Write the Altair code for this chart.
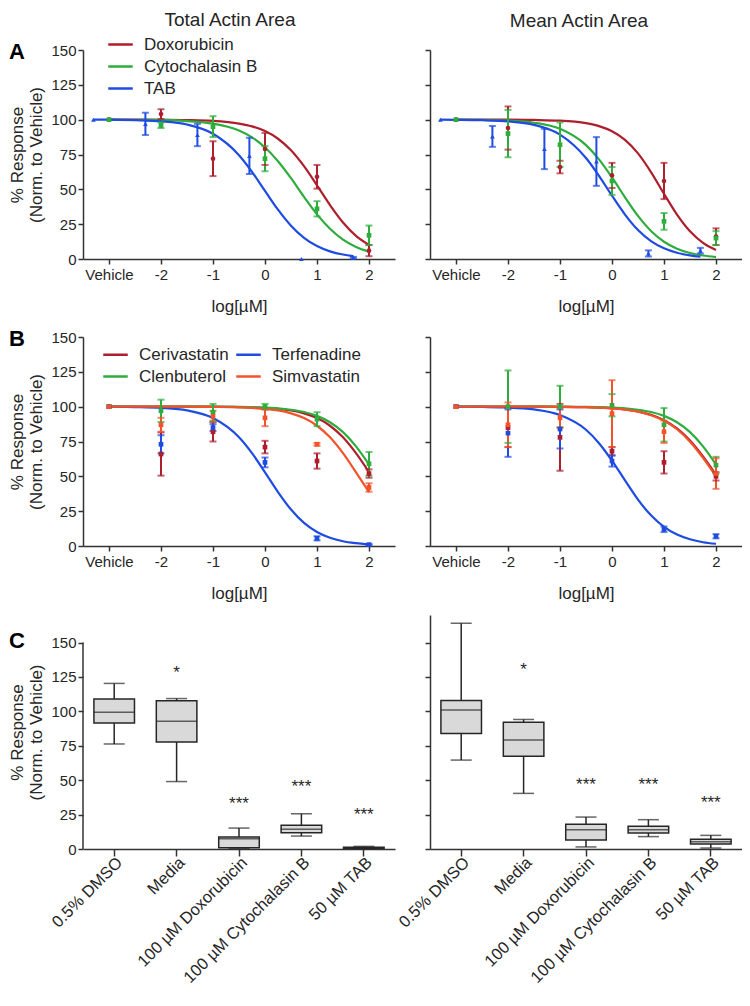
import altair as alt
import pandas as pd

FONT = "Liberation Sans"
INK = "#262626"
RED, GREEN, BLUE, ORANGE = "#AD1F2C", "#2EAD3D", "#1E4BE2", "#F2532B"

# ---------------- x positions (log[uM]); "Vehicle" drawn at -3, TAB offset -0.3 ----------------
DOSE_X = [-3, -2, -1, 0, 1, 2]
TAB_X = [-3.3, -2.3, -1.3, -0.3, 0.7, 1.7]
CURVE_X = [-3, -2.5, -2, -1.5, -1, -0.5, -0.25, 0, 0.25, 0.5, 0.75, 1, 1.25, 1.5, 1.75, 2]
TAB_CURVE_X = [-3.3, -3, -2.5, -2, -1.5, -1, -0.5, -0.25, 0, 0.25, 0.5, 0.75, 1, 1.25, 1.5, 1.7]
X_TICKS = [-3, -2, -1, 0, 1, 2]

# ---------------- Panel A ----------------
A_NAMES = ["Doxorubicin", "Cytochalasin B", "TAB"]
A_COLORS = [RED, GREEN, BLUE]
A_SHAPES = ["circle", "square", "triangle-up"]

# Total actin area
AT_DOX_MEAN = [100, 104, 72, 79, 59, 6]
AT_DOX_SEM = [0, 3.5, 12.5, 11.5, 8.5, 4]
AT_CYT_MEAN = [100, 96, 95, 72, 36, 17]
AT_CYT_SEM = [0, 2, 7.5, 9, 5.5, 7]
AT_TAB_MEAN = [100, 97, 89, 74, 0, 1]
AT_TAB_SEM = [0, 8, 8, 13, 0, 0.5]
AT_DOX_FIT = [100, 100, 99.9, 99.7, 99.1, 97.2, 95.2, 91.8, 86.3, 78.0, 66.6, 52.9, 38.7, 26.2, 16.6, 10.1]
AT_CYT_FIT = [100, 99.9, 99.8, 99.0, 97.1, 92.2, 87.3, 80.0, 70.2, 58.0, 44.6, 32.0, 21.7, 13.9, 8.7, 5.3]
AT_TAB_FIT = [100, 100, 99.6, 98.8, 96.5, 89.9, 74.5, 62.6, 48.9, 35.4, 23.9, 15.2, 9.3, 5.5, 3.2, 2.1]

# Mean actin area
AM_DOX_MEAN = [100, 94, 66, 60, 56, 16]
AM_DOX_SEM = [0, 15.5, 4.5, 9, 13, 6]
AM_CYT_MEAN = [100, 90, 82, 56, 27, 15]
AM_CYT_SEM = [0, 17, 16, 10, 6, 5]
AM_TAB_MEAN = [100, 88, 79, 70, 4, 6]
AM_TAB_SEM = [0, 7.5, 14.5, 17.5, 2.2, 2]
AM_DOX_FIT = [100, 100, 100, 99.8, 99.3, 97.5, 95.4, 91.7, 85.5, 75.8, 62.4, 46.8, 31.9, 19.9, 11.6, 6.5]
AM_CYT_FIT = [100, 99.8, 99.3, 97.8, 93.4, 81.7, 71.5, 58.5, 44.3, 30.9, 20.1, 12.4, 7.4, 4.3, 2.5, 1.4]
AM_TAB_FIT = [100, 99.9, 99.6, 98.8, 96.3, 89.3, 72.5, 59.7, 45.4, 31.9, 20.8, 12.9, 7.7, 4.5, 2.6, 1.6]

# ---------------- Panel B ----------------
B_NAMES = ["Cerivastatin", "Clenbuterol", "Terfenadine", "Simvastatin"]
B_COLORS = [RED, GREEN, BLUE, ORANGE]
B_SHAPES = ["square", "square", "square", "square"]

BT_CER_MEAN = [100, 66, 82, 71, 61, 52]
BT_CER_SEM = [0, 15.5, 7, 4.5, 5.5, 3]
BT_CLE_MEAN = [100, 97, 96, 100, 91, 59]
BT_CLE_SEM = [0, 8, 6, 2, 5, 8.5]
BT_TER_MEAN = [100, 73, 85, 60, 5.5, 1]
BT_TER_SEM = [0, 6.5, 2.5, 3.5, 1.5, 0.5]
BT_SIM_MEAN = [100, 87, 93, 92, 73, 42]
BT_SIM_SEM = [0, 5, 4, 6, 1, 3]
BT_CER_FIT = [100, 100, 100, 100, 100, 99.7, 99.5, 99.1, 98.4, 97.3, 95.2, 91.8, 86.3, 78.0, 66.6, 52.9]
BT_CLE_FIT = [100, 100, 100, 100, 100, 99.8, 99.6, 99.3, 98.8, 97.8, 96.2, 93.4, 88.8, 81.7, 71.5, 58.5]
BT_TER_FIT = [100, 99.7, 99.1, 97.3, 91.8, 78.0, 66.6, 52.9, 38.7, 26.2, 16.6, 10.1, 5.9, 3.4, 2.0, 1.1]
BT_SIM_FIT = [100, 100, 100, 100, 99.8, 99.5, 99.1, 98.4, 97.3, 95.2, 91.8, 86.3, 78.0, 66.6, 52.9, 38.7]

BM_CER_MEAN = [100, 85, 78, 68, 60, 50]
BM_CER_SEM = [0, 14, 24, 3, 8, 3]
BM_CLE_MEAN = [100, 100, 100, 101, 87, 58]
BM_CLE_SEM = [0, 26, 15, 8, 12, 6]
BM_TER_MEAN = [100, 81, 84, 61, 12, 7]
BM_TER_SEM = [0, 17, 14, 4, 2, 1.5]
BM_SIM_MEAN = [100, 87, 92, 95, 82, 52]
BM_SIM_SEM = [0, 16, 7, 24, 8, 11]
BM_CER_FIT = [100, 100, 100, 100, 99.9, 99.6, 99.3, 98.8, 98.0, 96.5, 94.2, 90.3, 84.4, 75.7, 64.3, 51.1]
BM_CLE_FIT = [100, 100, 100, 100, 100, 99.8, 99.6, 99.3, 98.8, 97.8, 96.2, 93.4, 88.8, 81.7, 71.5, 58.5]
BM_TER_FIT = [100, 99.8, 99.4, 98.0, 94.0, 83.4, 73.8, 61.3, 47.1, 33.3, 22.0, 13.7, 8.2, 4.8, 2.7, 1.6]
BM_SIM_FIT = [100, 100, 100, 100, 99.9, 99.6, 99.2, 98.8, 97.9, 96.4, 93.9, 89.9, 83.8, 74.9, 63.3, 50.0]

# ---------------- Panel C (box plots) ----------------
C_CATS = ["0.5% DMSO", "Media", "100 \u00b5M Doxorubicin", "100 \u00b5M Cytochalasin B", "50 \u00b5M TAB"]
CT_MIN = [76.3, 49, 0.5, 9.4, 0.2]
CT_Q1 = [91.6, 77.8, 0.9, 11.8, 0.5]
CT_MED = [99.3, 92.8, 7.4, 14.4, 0.8]
CT_Q3 = [108.9, 107.7, 8.8, 17.2, 1.2]
CT_MAX = [120.3, 109.3, 15.2, 25.6, 1.9]
CT_STARS = ["", "*", "***", "***", "***"]
CT_STAR_Y = [0, 131.6, 36.4, 49, 28.2]

CM_MIN = [64.6, 40.4, 1.5, 9, 0.7]
CM_Q1 = [84, 67.3, 6.5, 11.6, 3.6]
CM_MED = [100.9, 79.1, 14, 14, 5.3]
CM_Q3 = [107.9, 92, 17.9, 16.5, 7]
CM_MAX = [164, 94.1, 23.2, 21.3, 9.9]
CM_STARS = ["", "*", "***", "***", "***"]
CM_STAR_Y = [0, 133.6, 50, 50, 37]

Y_TICKS = [0, 25, 50, 75, 100, 125, 150]
Y_TITLE = ["% Response", "(Norm. to Vehicle)"]
W, H, HC = 312, 209, 234


def panel_label(letter, yv):
    return alt.Chart(pd.DataFrame({"t": [letter]})).mark_text(
        font=FONT, fontSize=22, fontWeight="bold", color="#000", align="center", baseline="middle"
    ).encode(x=alt.value(-66), y=alt.value(yv), text="t:N")


def dose_panel(names, colors, shapes, xs_list, means, sems, cxs_list, fits, show_y, legend,
               title, title_offset, title_dx, letter=None):
    pts, crv = [], []
    for n, xs, m, s, cxs, f in zip(names, xs_list, means, sems, cxs_list, fits):
        for xv, mv, sv in zip(xs, m, s):
            pts.append({"compound": n, "x": xv, "mean": mv, "lo": mv - sv, "hi": mv + sv, "sem": sv})
        for xv, yv in zip(cxs, f):
            crv.append({"compound": n, "x": xv, "y": yv})
    pts = pd.DataFrame(pts)
    crv = pd.DataFrame(crv)
    err = pts[pts["sem"] > 0]

    xaxis = alt.Axis(values=X_TICKS, labelExpr="datum.value == -3 ? 'Vehicle' : toString(datum.value)",
                     title="log[\u00b5M]", tickSize=5, labelPadding=3, titlePadding=16)
    if show_y:
        yaxis = alt.Axis(values=Y_TICKS, title=Y_TITLE, tickSize=5, labelPadding=2, titlePadding=5)
    else:
        yaxis = alt.Axis(values=Y_TICKS, labels=False, title=None, tickSize=5)
    xs = alt.Scale(domain=[-3.5, 2.5], nice=False, zero=False)
    ys = alt.Scale(domain=[0, 150], nice=False)
    cscale = alt.Scale(domain=names, range=colors)
    color_leg = alt.Color("compound:N", scale=cscale, legend=legend)
    color = alt.Color("compound:N", scale=cscale, legend=None)
    X = alt.X("x:Q", scale=xs, axis=xaxis)

    lines = alt.Chart(crv).mark_line(strokeWidth=2.2, interpolate="monotone").encode(
        x=X, y=alt.Y("y:Q", scale=ys, axis=yaxis), color=color_leg, detail="compound:N")
    bars = alt.Chart(err).mark_rule(strokeWidth=2).encode(
        x=X, y=alt.Y("lo:Q", scale=ys, axis=yaxis), y2="hi:Q", color=color)
    caps = alt.Chart(err).transform_fold(["lo", "hi"], as_=["k", "v"]).mark_tick(
        orient="horizontal", size=7, thickness=2).encode(
        x=X, y=alt.Y("v:Q", scale=ys, axis=yaxis), color=color)
    layers = [lines, bars, caps]
    for n, shp in zip(names, shapes):
        sub = pts[pts["compound"] == n]
        layers.append(alt.Chart(sub).mark_point(filled=True, size=22, opacity=1, shape=shp).encode(
            x=X, y=alt.Y("mean:Q", scale=ys, axis=yaxis), color=color))
    if letter:
        layers.append(panel_label(letter, 2))
    ch = alt.layer(*layers).properties(width=W, height=H)
    if title:
        ch = ch.properties(title=alt.TitleParams(text=title, anchor="middle", offset=title_offset,
                                                 dx=title_dx, fontSize=19, font=FONT,
                                                 fontWeight="normal", color=INK))
    return ch


def box_panel(mn, q1, med, q3, mx, stars, star_y, show_y, letter=None):
    df = pd.DataFrame({"cat": C_CATS, "mn": mn, "q1": q1, "med": med, "q3": q3, "mx": mx})
    sdf = pd.DataFrame({"cat": C_CATS, "star": stars, "sy": star_y})
    sdf = sdf[sdf["star"] != ""]
    xs = alt.Scale(domain=C_CATS, paddingInner=0, paddingOuter=0)
    xaxis = alt.Axis(title=None, labelAngle=315, labelAlign="right", labelBaseline="top",
                     tickSize=7, labelPadding=-2, labelFontSize=16.5)
    ys = alt.Scale(domain=[0, 170], nice=False)
    if show_y:
        yaxis = alt.Axis(values=Y_TICKS, title=Y_TITLE, tickSize=5, labelPadding=2, titlePadding=5,
                         domain=False)
    else:
        yaxis = alt.Axis(values=Y_TICKS, labels=False, title=None, tickSize=5)
    X = alt.X("cat:N", scale=xs, axis=xaxis, sort=C_CATS)

    whisk = alt.Chart(df).mark_rule(color=INK, strokeWidth=1.5).encode(
        x=X, y=alt.Y("mn:Q", scale=ys, axis=yaxis), y2="mx:Q")
    box = alt.Chart(df).mark_bar(width=alt.RelativeBandSize(0.65), fill="#D9D9D9", stroke=INK,
                                 strokeWidth=1.5).encode(
        x=X, y=alt.Y("q1:Q", scale=ys, axis=yaxis), y2="q3:Q")
    median = alt.Chart(df).mark_tick(orient="horizontal", size=41, thickness=1.5, color=INK).encode(
        x=X, y=alt.Y("med:Q", scale=ys, axis=yaxis))
    caps = alt.Chart(df).transform_fold(["mn", "mx"], as_=["k", "v"]).mark_tick(
        orient="horizontal", size=21, thickness=1.5, color=INK).encode(
        x=X, y=alt.Y("v:Q", scale=ys, axis=yaxis))
    txt = alt.Chart(sdf).mark_text(font=FONT, fontSize=17, color=INK, baseline="middle", dy=5).encode(
        x=X, y=alt.Y("sy:Q", scale=ys, axis=yaxis), text="star:N")
    layers = [whisk, box, median, caps, txt]
    if show_y:
        axl = alt.Chart(pd.DataFrame({"a": [0], "b": [150]})).mark_rule(color="#333", strokeWidth=1.5).encode(
            x=alt.value(0), y=alt.Y("a:Q", scale=ys, axis=yaxis), y2="b:Q")
        layers.insert(0, axl)
    if letter:
        layers.append(panel_label(letter, 26))
    return alt.layer(*layers).properties(width=W, height=HC)


legA = alt.Legend(orient="none", legendX=24, legendY=-19, title=None, direction="vertical", columns=1,
                  symbolType="stroke", symbolSize=600, symbolStrokeWidth=2.5, labelFontSize=17,
                  labelFont=FONT, labelColor=INK, rowPadding=0, labelOffset=10, padding=0)
legB = alt.Legend(orient="none", legendX=19, legendY=4, title=None, direction="vertical", columns=2,
                  symbolType="stroke", symbolSize=600, symbolStrokeWidth=2.5, labelFontSize=17,
                  labelFont=FONT, labelColor=INK, rowPadding=0, columnPadding=2, labelOffset=10,
                  padding=0)

at = dose_panel(A_NAMES, A_COLORS, A_SHAPES, [DOSE_X, DOSE_X, TAB_X],
                [AT_DOX_MEAN, AT_CYT_MEAN, AT_TAB_MEAN], [AT_DOX_SEM, AT_CYT_SEM, AT_TAB_SEM],
                [CURVE_X, CURVE_X, TAB_CURVE_X], [AT_DOX_FIT, AT_CYT_FIT, AT_TAB_FIT],
                True, legA, "Total Actin Area", 1, -9, "A")
am = dose_panel(A_NAMES, A_COLORS, A_SHAPES, [DOSE_X, DOSE_X, TAB_X],
                [AM_DOX_MEAN, AM_CYT_MEAN, AM_TAB_MEAN], [AM_DOX_SEM, AM_CYT_SEM, AM_TAB_SEM],
                [CURVE_X, CURVE_X, TAB_CURVE_X], [AM_DOX_FIT, AM_CYT_FIT, AM_TAB_FIT],
                False, None, "Mean Actin Area", 18, -7)
bt = dose_panel(B_NAMES, B_COLORS, B_SHAPES, [DOSE_X] * 4,
                [BT_CER_MEAN, BT_CLE_MEAN, BT_TER_MEAN, BT_SIM_MEAN],
                [BT_CER_SEM, BT_CLE_SEM, BT_TER_SEM, BT_SIM_SEM],
                [CURVE_X] * 4, [BT_CER_FIT, BT_CLE_FIT, BT_TER_FIT, BT_SIM_FIT],
                True, legB, None, 0, 0, "B")
bm = dose_panel(B_NAMES, B_COLORS, B_SHAPES, [DOSE_X] * 4,
                [BM_CER_MEAN, BM_CLE_MEAN, BM_TER_MEAN, BM_SIM_MEAN],
                [BM_CER_SEM, BM_CLE_SEM, BM_TER_SEM, BM_SIM_SEM],
                [CURVE_X] * 4, [BM_CER_FIT, BM_CLE_FIT, BM_TER_FIT, BM_SIM_FIT],
                False, None, None, 0, 0)
ct = box_panel(CT_MIN, CT_Q1, CT_MED, CT_Q3, CT_MAX, CT_STARS, CT_STAR_Y, True, "C")
cm = box_panel(CM_MIN, CM_Q1, CM_MED, CM_Q3, CM_MAX, CM_STARS, CM_STAR_Y, False)

rowA = alt.hconcat(at, am, spacing=35, bounds="flush").resolve_scale(color="independent")
rowB = alt.hconcat(bt, bm, spacing=35, bounds="flush").resolve_scale(color="independent")
rowC = alt.hconcat(ct, cm, spacing=35, bounds="flush")

chart = alt.vconcat(rowA, rowB, rowC, spacing=14).resolve_scale(
    color="independent"
).properties(padding={"top": 3, "left": 0, "right": 0, "bottom": 0}).configure_view(
    stroke=None
).configure_axis(
    labelFont=FONT, titleFont=FONT, labelFontSize=15, titleFontSize=17, labelColor=INK,
    titleColor=INK, domainColor="#333", tickColor="#333", domainWidth=1.5, tickWidth=1.5,
    grid=False, titleFontWeight="normal", titleLineHeight=19
)

chart.save("out.html", embed_options={"renderer": "svg", "actions": False})
